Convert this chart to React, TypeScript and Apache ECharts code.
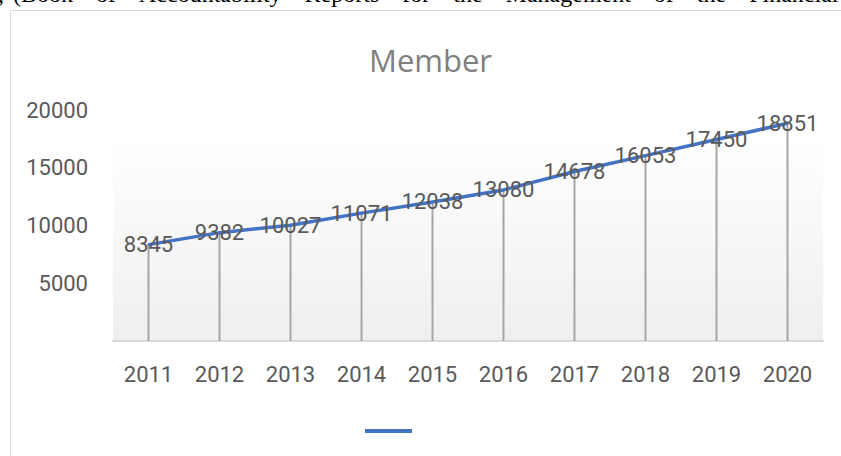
import React, { useEffect, useRef } from "react";
import * as echarts from "echarts";

const years = ["2011", "2012", "2013", "2014", "2015", "2016", "2017", "2018", "2019", "2020"];
const members = [8345, 9382, 10027, 11071, 12038, 13080, 14678, 16053, 17450, 18851];
const yMin = 0;
const yMax = 20000;
const yStep = 5000;
const titleText = "Member";
const topLead = ".,";
const topWords = ["(Book", "of", "Accountability", "Reports", "for", "the", "Management", "of", "the", "Financial"];

function measure(text: string, font: string): number {
  const c = document.createElement("canvas");
  const ctx = c.getContext("2d");
  if (!ctx) return text.length * 11;
  ctx.font = font;
  return ctx.measureText(text).width;
}

export default function App() {
  const ref = useRef<HTMLDivElement>(null);
  useEffect(() => {
    if (!ref.current) return;
    const chart = echarts.init(ref.current, undefined, { renderer: "svg" });
    const labelFont = "Roboto";
    const serifSize = 24;
    const serifFont = `${serifSize}px "Liberation Serif"`;
    const textY = -6;
    const wordGap = 23;
    const wordEls: any[] = [
      {
        type: "text",
        x: 4,
        y: textY,
        style: {
          text: topLead,
          fontFamily: "Liberation Serif",
          fontSize: serifSize,
          fill: "#000000",
          verticalAlign: "middle",
          align: "right",
        },
      },
    ];
    let cx = 13;
    topWords.forEach((w) => {
      wordEls.push({
        type: "text",
        x: cx,
        y: textY,
        style: {
          text: w,
          fontFamily: "Liberation Serif",
          fontSize: serifSize,
          fill: "#000000",
          verticalAlign: "middle",
        },
      });
      cx += measure(w, serifFont) + wordGap;
    });

    chart.setOption({
      animation: false,
      backgroundColor: "#ffffff",
      title: {
        text: titleText,
        left: 364,
        top: 39,
        textStyle: { fontFamily: "Open Sans", fontSize: 31, fontWeight: "normal", color: "#7f7f7f" },
      },
      legend: {
        data: [{ name: titleText, icon: "rect" }],
        left: 360,
        top: 424,
        itemWidth: 47,
        itemHeight: 4,
        formatter: () => "",
        selectedMode: false,
      },
      grid: { left: 113, right: 18, top: 110, bottom: 115 },
      xAxis: {
        type: "category",
        data: years,
        boundaryGap: true,
        axisLine: { show: true, lineStyle: { color: "#d9d9d9", width: 2 } },
        axisTick: { show: false },
        axisLabel: { color: "#595959", fontSize: 22, fontFamily: labelFont, margin: 22 },
        splitLine: { show: false },
      },
      yAxis: {
        type: "value",
        min: yMin,
        max: yMax,
        interval: yStep,
        axisLine: { show: false },
        axisTick: { show: false },
        splitLine: { show: false },
        axisLabel: {
          color: "#595959",
          fontSize: 22,
          fontFamily: labelFont,
          margin: 25,
          showMinLabel: false,
          formatter: (v: number) => String(v),
        },
      },
      graphic: {
        elements: [
          {
            type: "rect",
            z: -1,
            silent: true,
            shape: { x: 113, y: 133, width: 710, height: 208 },
            style: {
              fill: new echarts.graphic.LinearGradient(0, 0, 0, 1, [
                { offset: 0, color: "#ffffff" },
                { offset: 1, color: "#efefef" },
              ]),
            },
          },
          {
            type: "rect",
            z: -1,
            silent: true,
            shape: { x: 10.5, y: 10.5, width: 900, height: 500 },
            style: { fill: "none", stroke: "#d9d9d9", lineWidth: 1 },
          },
          ...wordEls,
        ],
      },
      series: [
        {
          name: "drop",
          type: "bar",
          data: members,
          barWidth: 2,
          itemStyle: { color: "#a6a6a6" },
          z: 1,
          silent: true,
        },
        {
          name: titleText,
          type: "line",
          data: members,
          symbol: "circle",
          symbolSize: 2,
          showSymbol: true,
          lineStyle: { color: "#4472c4", width: 3.5 },
          itemStyle: { color: "#4472c4" },
          z: 3,
          label: {
            show: true,
            position: "inside",
            color: "#595959",
            fontSize: 22,
            fontFamily: labelFont,
          },
        },
      ],
    });
    return () => chart.dispose();
  }, []);
  return (
    <div
      ref={ref}
      style={{ position: "fixed", left: 0, top: 0, width: 841, height: 456 }}
    />
  );
}
